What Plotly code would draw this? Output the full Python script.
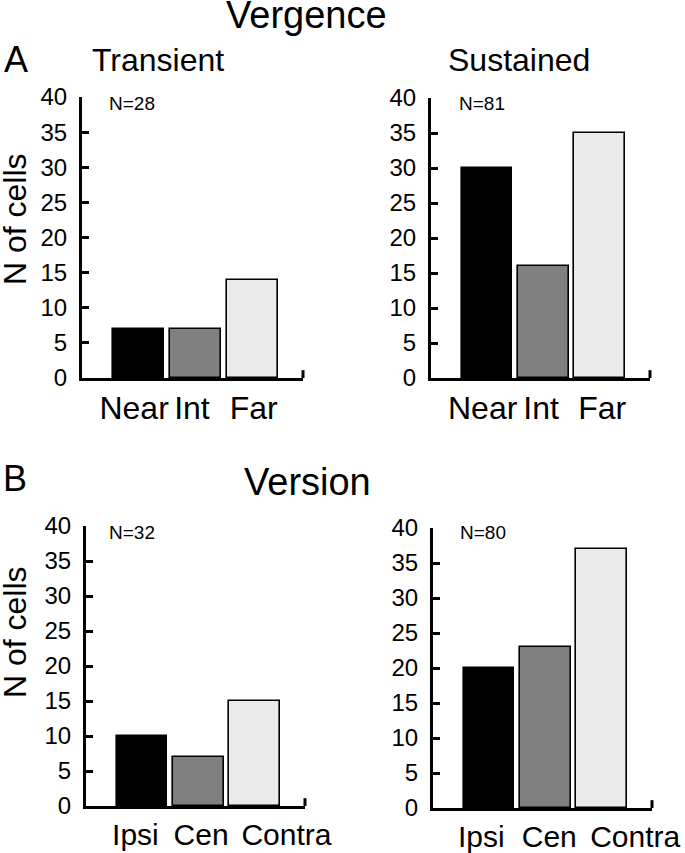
import plotly.graph_objects as go

W, H = 685, 853

# ---- data ----
vergence_cats = ["Near", "Int", "Far"]
transient_vergence = [7, 7, 14]
sustained_vergence = [30, 16, 35]
version_cats = ["Ipsi", "Cen", "Contra"]
transient_version = [10, 7, 15]
sustained_version = [20, 23, 37]
n_labels = ["N=28", "N=81", "N=32", "N=80"]
y_ticks = [0, 5, 10, 15, 20, 25, 30, 35, 40]

bar_colors = ["#000000", "#808080", "#ebebeb"]
FONT = "Liberation Sans, Arial, sans-serif"

def px_x(p):
    return p / W

def px_y(p):
    return 1 - p / H

# panel pixel boxes: (left, right, top, bottom)
panels = [
    (82, 303, 97, 378),
    (431, 650, 98, 378),
    (86, 305, 526, 806),
    (433, 652, 528, 808),
]
series = [
    (vergence_cats, transient_vergence),
    (vergence_cats, sustained_vergence),
    (version_cats, transient_version),
    (version_cats, sustained_version),
]
label_offsets = [
    [-0.08, -0.06, 0.03],
    [-0.08, -0.04, 0.05],
    [-0.12, 0.05, 0.57],
    [-0.14, 0.07, 0.6],
]
label_sizes = [32, 32, 30, 30]

fig = go.Figure()
layout = dict(
    template="none",
    width=W, height=H,
    margin=dict(l=0, r=0, t=0, b=0, pad=0),
    paper_bgcolor="white", plot_bgcolor="white",
    showlegend=False,
    bargap=0,
)

shapes = []
for i, ((l, r, t, b), (cats, vals), offs, fs) in enumerate(
        zip(panels, series, label_offsets, label_sizes)):
    n = i + 1
    xa = "x" if n == 1 else f"x{n}"
    ya = "y" if n == 1 else f"y{n}"
    idx = list(range(len(cats)))
    fig.add_trace(go.Bar(
        x=idx, y=vals, width=0.9,
        marker=dict(color=bar_colors, line=dict(color="black", width=1.6)),
        xaxis=xa, yaxis=ya, hoverinfo="skip",
    ))
    layout[f"xaxis{'' if n == 1 else n}"] = dict(
        domain=[px_x(l), px_x(r)], anchor=ya, automargin=False,
        range=[-1.0, 2.9], showgrid=False, zeroline=False,
        showline=True, linecolor="black", linewidth=3,
        ticks="", tickangle=0,
        tickvals=[k + o for k, o in zip(idx, offs)], ticktext=cats,
        tickfont=dict(family=FONT, size=fs, color="black"),
        ticklabelstandoff=0,
    )
    layout[f"yaxis{'' if n == 1 else n}"] = dict(
        domain=[px_y(b), px_y(t)], anchor=xa, automargin=False,
        range=[0, 40], showgrid=False, zeroline=False,
        showline=True, linecolor="black", linewidth=3,
        ticks="inside", ticklen=7, tickwidth=3, tickcolor="black",
        tickvals=y_ticks,
        tickfont=dict(family=FONT, size=24, color="black"),
        ticklabelstandoff=7,
    )
    shapes.append(dict(
        type="line", xref=f"{xa} domain", yref=f"{ya} domain",
        x0=1, x1=1, y0=0, y1=0.028,
        line=dict(color="black", width=3),
    ))

def ann(text, x, y, size, angle=0):
    return dict(text=text, x=px_x(x), y=px_y(y), xref="paper", yref="paper",
                showarrow=False, xanchor="center", yanchor="middle",
                textangle=angle,
                font=dict(family=FONT, size=size, color="black"))

annotations = [
    ann("Vergence", 306, 15, 38),
    ann("Version", 307, 482, 38),
    ann("A", 16, 60, 36),
    ann("B", 15, 478, 36),
    ann("Transient", 158, 60, 32),
    ann("Sustained", 519, 60, 32),
    ann("N of cells", 15, 219, 32, -90),
    ann("N of cells", 15, 632, 32, -90),
    ann(n_labels[0], 132, 104, 19),
    ann(n_labels[1], 482, 104, 19),
    ann(n_labels[2], 132, 532, 19),
    ann(n_labels[3], 483, 532, 19),
]

layout["shapes"] = shapes
layout["annotations"] = annotations
fig.update_layout(**layout)
fig.write_html(
    "out.html",
    config={"displayModeBar": False},
    post_script="document.body.style.margin='0';document.body.style.overflow='hidden';",
)
